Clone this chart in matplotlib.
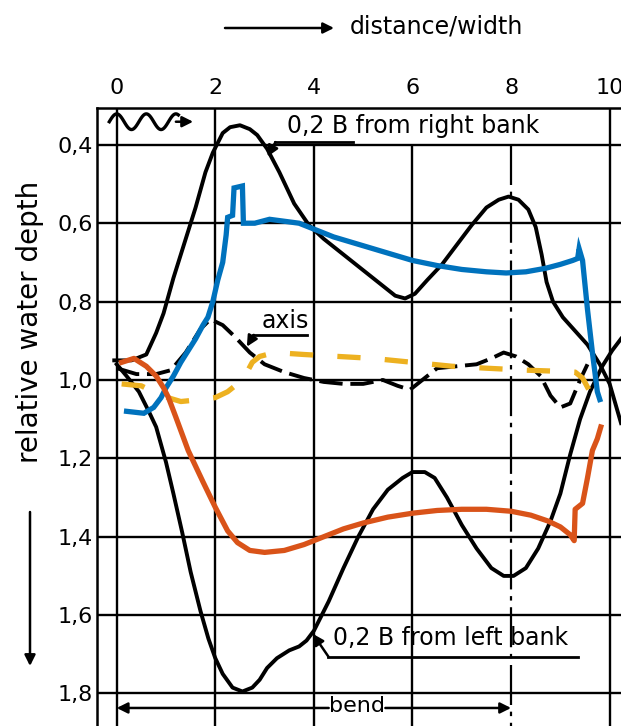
import numpy as np
import matplotlib
matplotlib.use("Agg")
import matplotlib.pyplot as plt

right_bank_x = [-0.05, 0.3, 0.6, 0.8, 0.95, 1.15, 1.35, 1.6, 1.8, 1.95, 2.15, 2.3, 2.5, 2.7, 2.85,
                3.05, 3.3, 3.6, 3.9, 4.2, 4.6, 5.0, 5.4, 5.65, 5.85, 6.05, 6.3, 6.6, 6.9, 7.2,
                7.5, 7.75, 7.95, 8.15, 8.35, 8.5, 8.62, 8.72, 8.85, 9.05, 9.3, 9.55, 9.8, 10.0, 10.23]
right_bank_y = [0.95, 0.95, 0.935, 0.88, 0.83, 0.74, 0.66, 0.56, 0.47, 0.42, 0.37, 0.355, 0.35, 0.36, 0.375,
                0.41, 0.47, 0.55, 0.605, 0.64, 0.68, 0.72, 0.76, 0.785, 0.792, 0.78, 0.745, 0.705, 0.655, 0.605,
                0.56, 0.54, 0.532, 0.54, 0.565, 0.61, 0.68, 0.75, 0.8, 0.84, 0.875, 0.91, 0.96, 1.01, 1.11]

left_bank_x = [0.0, 0.2, 0.45, 0.65, 0.8, 1.0, 1.15, 1.33, 1.5, 1.7, 1.86, 2.0, 2.15, 2.35, 2.55,
               2.75, 2.9, 3.05, 3.25, 3.5, 3.7, 3.85, 4.0, 4.3, 4.6, 4.9, 5.2, 5.5, 5.8, 6.0,
               6.25, 6.45, 6.7, 7.0, 7.3, 7.6, 7.85, 8.05, 8.3, 8.55, 8.8, 9.0, 9.2, 9.4, 9.6,
               9.85, 10.05, 10.23]
left_bank_y = [0.96, 0.99, 1.03, 1.08, 1.12, 1.21, 1.29, 1.39, 1.49, 1.59, 1.66, 1.71, 1.75, 1.785, 1.795,
               1.785, 1.765, 1.735, 1.71, 1.69, 1.68, 1.665, 1.64, 1.565, 1.48, 1.40, 1.33, 1.28, 1.25, 1.235,
               1.235, 1.25, 1.30, 1.37, 1.43, 1.48, 1.50, 1.50, 1.48, 1.43, 1.36, 1.29, 1.19, 1.10, 1.03,
               0.965, 0.925, 0.895]

axis_x = [0.0, 0.4, 0.8, 1.1, 1.4, 1.7, 1.9, 2.15, 2.4, 2.7, 3.0, 3.4, 3.8, 4.2, 4.6, 5.0, 5.4, 5.7,
          5.95, 6.2, 6.5, 6.9, 7.3, 7.6, 7.85, 8.1, 8.35, 8.6, 8.8, 9.0, 9.2, 9.4, 9.55]
axis_y = [0.97, 0.985, 0.985, 0.975, 0.93, 0.87, 0.845, 0.86, 0.89, 0.93, 0.96, 0.98, 0.995, 1.005, 1.01, 1.01, 1.0, 1.015,
          1.025, 1.0, 0.97, 0.965, 0.96, 0.945, 0.93, 0.94, 0.96, 0.99, 1.04, 1.07, 1.06, 1.0, 0.96]

blue_x = [0.2, 0.55, 0.75, 0.9, 1.0, 1.15, 1.3, 1.45, 1.6, 1.75, 1.85, 1.95, 2.05, 2.15, 2.22, 2.25,
          2.35, 2.38, 2.55, 2.57, 2.8, 3.1, 3.4, 3.7, 4.0, 4.4, 4.8, 5.2, 5.6, 6.0, 6.5, 7.0, 7.5,
          7.9, 8.3, 8.7, 9.0, 9.25, 9.35, 9.38, 9.45, 9.55, 9.65, 9.75, 9.8]
blue_y = [1.08, 1.085, 1.07, 1.045, 1.02, 0.99, 0.955, 0.925, 0.895, 0.86, 0.84, 0.8, 0.745, 0.7, 0.63, 0.585,
          0.58, 0.51, 0.505, 0.6, 0.6, 0.59, 0.595, 0.6, 0.615, 0.635, 0.65, 0.665, 0.68, 0.695, 0.708, 0.718, 0.724,
          0.727, 0.724, 0.715, 0.705, 0.695, 0.69, 0.665, 0.695, 0.82, 0.93, 1.03, 1.05]

orange_x = [0.1, 0.35, 0.6, 0.8, 0.95, 1.05, 1.2, 1.45, 1.75, 2.0, 2.25, 2.45, 2.7, 3.0, 3.4, 3.8,
            4.2, 4.6, 5.0, 5.5, 6.0, 6.5, 7.0, 7.5, 8.0, 8.4, 8.75, 9.0, 9.2, 9.28, 9.3, 9.45,
            9.55, 9.65, 9.75, 9.82]
orange_y = [0.955, 0.945, 0.965, 0.99, 1.02, 1.045, 1.095, 1.18, 1.26, 1.325, 1.385, 1.415, 1.435, 1.44, 1.435, 1.42,
            1.4, 1.38, 1.365, 1.35, 1.34, 1.333, 1.33, 1.33, 1.335, 1.345, 1.36, 1.375, 1.395, 1.41, 1.33, 1.315,
            1.25, 1.18, 1.15, 1.12]

yellow_x = [0.1, 0.5, 0.9, 1.3, 1.7, 2.0, 2.25, 2.45, 2.6, 2.75, 2.9, 3.2, 3.8, 4.5, 5.2, 6.0, 6.8,
            7.5, 8.3, 9.0, 9.3, 9.45, 9.6]
yellow_y = [1.01, 1.015, 1.04, 1.055, 1.05, 1.045, 1.03, 1.01, 0.99, 0.955, 0.94, 0.93, 0.935, 0.94, 0.945, 0.955, 0.965,
            0.97, 0.975, 0.978, 0.98, 0.995, 1.03]

x_ticks = [0, 2, 4, 6, 8, 10]
depth_ticks = [0.4, 0.6, 0.8, 1.0, 1.2, 1.4, 1.6, 1.8]
depth_labels = ["0,4", "0,6", "0,8", "1,0", "1,2", "1,4", "1,6", "1,8"]

fig = plt.figure(figsize=(6.21, 7.26), dpi=100)
ax = fig.add_axes([97 / 621, 0, 524 / 621, 618 / 726])
ax.set_xlim(-0.4, 10.23)
ax.set_ylim(1.883, 0.306)

for s in ["right", "bottom"]:
    ax.spines[s].set_visible(False)
for s in ["top", "left"]:
    ax.spines[s].set_linewidth(1.8)

ax.xaxis.tick_top()
ax.set_xticks(x_ticks)
ax.set_xticklabels([str(t) for t in x_ticks])
ax.set_yticks(depth_ticks)
ax.set_yticklabels(depth_labels)
ax.tick_params(axis="x", length=0, pad=7, labelsize=16)
ax.tick_params(axis="y", length=0, pad=3, labelsize=16)

# grid of the original chart
gkw = dict(color="black", lw=1.7, zorder=1)
for y in depth_ticks:
    ax.axhline(y, **gkw)
for x in [0, 2, 10]:
    ax.axvline(x, **gkw)
ax.vlines([4, 6], depth_ticks[0], 1.883, **gkw)
ax.plot([8, 8], [depth_ticks[0], 1.883], color="black", lw=1.6, dashes=(18, 3, 2, 3), zorder=1)

# scanned black curves
ax.plot(right_bank_x, right_bank_y, color="black", lw=2.8, zorder=2)
ax.plot(left_bank_x, left_bank_y, color="black", lw=2.8, zorder=2)
ax.plot(axis_x, axis_y, color="black", lw=2.8, dashes=(6, 2), zorder=2)

# coloured overlays
ax.plot(blue_x, blue_y, color="#0072BD", lw=3.8, zorder=4, solid_joinstyle="miter")
ax.plot(orange_x, orange_y, color="#D95319", lw=3.8, zorder=4)
ax.plot(yellow_x, yellow_y, color="#EDB120", lw=3.8, dashes=(4.4, 4.6), dash_capstyle="butt", zorder=3)

arw = dict(arrowstyle="-|>", color="black", lw=1.8, mutation_scale=16, shrinkA=0, shrinkB=0)

# annotations
ax.text(3.46, 0.352, "0,2 B from right bank", fontsize=17, va="center", ha="left")
ax.plot([3.21, 4.79], [0.393, 0.393], color="black", lw=2)
ax.annotate("", xy=(3.06, 0.43), xytext=(3.22, 0.393), arrowprops=arw)

ax.text(2.93, 0.849, "axis", fontsize=17, va="center", ha="left")
ax.plot([2.77, 3.86], [0.885, 0.885], color="black", lw=2)
ax.annotate("", xy=(2.64, 0.915), xytext=(2.78, 0.885), arrowprops=arw)

ax.text(4.39, 1.658, "0,2 B from left bank", fontsize=17, va="center", ha="left")
ax.plot([4.29, 9.36], [1.707, 1.707], color="black", lw=2)
ax.annotate("", xy=(3.98, 1.648), xytext=(4.3, 1.707), arrowprops=arw)

ax.text(4.87, 1.833, "bend", fontsize=16, va="center", ha="center",
        bbox=dict(facecolor="white", edgecolor="none", pad=1))
ax.annotate("", xy=(0.0, 1.837), xytext=(4.3, 1.837), arrowprops=arw)
ax.annotate("", xy=(8.0, 1.837), xytext=(5.45, 1.837), arrowprops=arw)

# flow-direction squiggle in the header box
wx = np.linspace(-0.15, 1.25, 120)
ax.plot(wx, 0.341 - 0.02 * np.sin(2 * np.pi * (wx + 0.15) / 0.6), color="black", lw=2.4)
ax.annotate("", xy=(1.55, 0.341), xytext=(1.2, 0.341), arrowprops=arw)

# axis titles with arrows
fig.text(350 / 621, 699 / 726, "distance/width", fontsize=17, ha="left", va="center")
ax.annotate("", xy=(334, 698), xytext=(225, 698), xycoords="figure pixels",
            textcoords="figure pixels", arrowprops=arw)
fig.text(30 / 621, 404 / 726, "relative water depth", fontsize=20, rotation=90,
         ha="center", va="center")
ax.annotate("", xy=(30, 60), xytext=(30, 214), xycoords="figure pixels",
            textcoords="figure pixels", arrowprops=arw)

fig.savefig("out.png", dpi=100)
